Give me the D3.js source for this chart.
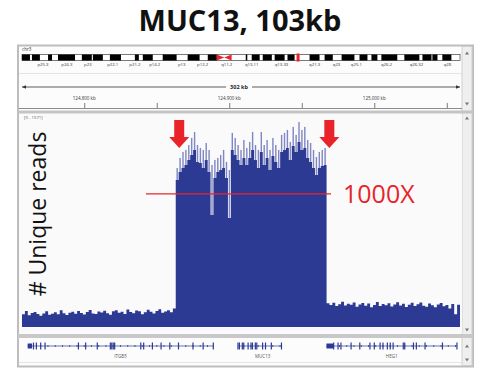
<!DOCTYPE html>
<html>
<head>
<meta charset="utf-8">
<script src="https://cdn.jsdelivr.net/npm/d3@7"></script>
<style>
  body { margin: 0; background: #fff; }
  svg { display: block; font-family: "Open Sans", "DejaVu Sans", sans-serif; }
</style>
</head>
<body>
<svg id="chart" width="481" height="371"></svg>
<script>
// View: chr3, 302 kb window (kb coordinates)
var viewStart = 124757.1, viewEnd = 125059.1;
var majorTicks = [124800, 124900, 125000];
var minorTicks = [124850, 124950, 125050];
var tickLabels = ["124,800 kb", "124,900 kb", "125,000 kb"];

// Coverage in 2 kb bins from viewStart (151 bins)
var binSize = 2;
var coverage = [
  95,120,88,105,112,98,84,102,118,92,100,110,96,125,104,90,108,115,99,121,106,94,113,128,101,97,117,109,122,103,
  92,119,126,107,114,98,131,112,104,124,118,96,110,129,115,102,121,133,108,117,125,111,140,
  1105,1165,1195,1218,1256,1293,1331,1241,1233,1195,1256,1165,842,1120,1165,1180,1195,1120,820,1331,
  1293,1256,1218,1271,1218,1271,1331,1256,1195,1316,1218,1271,1180,1286,1241,1195,1316,1331,1346,1256,
  1361,1316,1391,1331,1346,1271,1241,1195,1143,1195,1211,1218,
  178,165,182,158,171,190,162,175,168,184,152,170,181,160,176,149,166,188,157,172,163,179,155,169,186,
  161,174,150,167,182,158,171,185,160,153,177,164,148,170,181,156,165,140,172,95,168
];
// Peak (max) coverage for the captured region, bins 53..104
var peakStartBin = 53;
var peaks = [
  1195,1271,1316,1331,1368,1421,1466,1368,1346,1331,1383,1331,1218,1256,1271,1293,1331,1241,1180,1459,
  1421,1368,1331,1406,1346,1391,1466,1368,1331,1466,1368,1406,1331,1421,1368,1331,1444,1459,1481,1391,
  1504,1444,1541,1481,1504,1406,1383,1331,1278,1316,1331,1346
];
var dataRange = [0, 1571];
var depthMark = 1000;
var arrowPos = [124865.5, 124969];

// Chromosome 3 ideogram (Mb)
var chromLength = 198.3;
var bands = [
  [0,3.6],[4.5,8.1],[11.8,13.6],[16.3,24],[27.1,31.6],[32.1,36.6],[39.8,44.8],[51.1,52.9],[54.7,59.2],
  [63.7,70],[75,80.4],[84.1,88.2],[101.3,102],[104,107.6],[109,113.1],[114.4,118.9],[120.2,123.4],
  [130.2,134.7],[137,140.7],[144.7,150.5],[152.8,156.4],[158.2,160.9],[162.7,169.9],[173.1,179.9],
  [181.3,185.4],[185.8,188.1],[190.3,194.4]
];
var centromere = [88.2, 94.9];
var bandNames = ["p25.3","p24.3","p23","p22.1","p21.2","p14.2","p13","p12.2","q11.2","q13.11","q13.33",
  "q21.3","q23","q25.1","q26.2","q26.32","q28"];
var bandNamePos = [9.5,20.3,29.8,41.1,51.1,60.1,72.3,81.8,92.7,104,117.5,132.5,142.4,151.4,165,178.6,192.6];

// Genes (kb)
var geneNames = ["ITGB5", "MUC13", "HEG1"];
var geneSpans = [[124761, 124889], [124906, 124936], [124967, 125057]];
var geneUtr = [[124761, 124764], null, [124967, 124972]];
var geneExons = [
  [124765,124767,124770,124773,124796,124801,124809,124818,124819,124820,124821,124839,124841,124847,124853,124859,124865,124875,124882,124889],
  [124906,124907,124909,124910,124913,124915,124916,124918,124919,124923,124925,124929,124936],
  [124972,124975,124977,124984,124990,124997,125000,125004,125006,125009,125011,125013,125020,125021,125027,125029,125035,125047,125057]
];

var svg = d3.select("#chart");
var left = 22, right = 460;
var blue = "#2c3a93", red = "#e8242a";

var x = d3.scaleLinear().domain([viewStart, viewEnd]).range([left, right]).clamp(true);
var chromX = d3.scaleLinear().domain([0, chromLength]).range([left, 460]);
var y = d3.scaleLinear().domain(dataRange).range([327, 118]);

// Title
svg.append("text").attr("x", 240).attr("y", 31).attr("text-anchor", "middle")
  .style("font-size", "29px").style("font-weight", "bold").attr("fill", "#111")
  .text("MUC13, 103kb");

// Frame and panels
svg.append("rect").attr("x", 18).attr("y", 45.5).attr("width", 455).attr("height", 321)
  .attr("fill", "#fcfcfc").attr("stroke", "#bdbdbd").attr("stroke-width", 2);
svg.append("rect").attr("x", 462).attr("y", 46.5).attr("width", 10).attr("height", 319)
  .attr("fill", "#efefef").attr("stroke", "#cfcfcf");
svg.append("line").attr("x1", 19).attr("x2", 462).attr("y1", 73.5).attr("y2", 73.5).attr("stroke", "#e4e4e4");
svg.append("line").attr("x1", 19).attr("x2", 462).attr("y1", 108.5).attr("y2", 108.5).attr("stroke", "#8a8a8a");
svg.append("rect").attr("x", 18).attr("y", 110.5).attr("width", 455).attr("height", 3).attr("fill", "#c4c4c4");
svg.append("rect").attr("x", 19).attr("y", 114).attr("width", 443).attr("height", 219).attr("fill", "#fafafa");
svg.append("rect").attr("x", 18).attr("y", 334).attr("width", 455).attr("height", 4).attr("fill", "#c8c8c8");
svg.append("line").attr("x1", 19).attr("x2", 462).attr("y1", 362.5).attr("y2", 362.5).attr("stroke", "#e4e4e4");

// scrollbar arrows
var arrowsY = [[53, 1], [104, -1], [118, 1], [330, -1], [346, 1], [360, -1]];
svg.selectAll(".sarrow").data(arrowsY).enter().append("path")
  .attr("class", "sarrow")
  .attr("d", function(d) {
    return "M465," + (d[0] + d[1] * 1.5) + "L469," + (d[0] + d[1] * 1.5) + "L467," + (d[0] - d[1] * 1.5) + "Z";
  })
  .attr("fill", "#777");

// Ideogram
svg.append("text").attr("x", 22).attr("y", 51).style("font-size", "4.5px").attr("fill", "#333").text("chr3");
var ideo = svg.append("g");
ideo.append("rect").attr("x", chromX(0)).attr("y", 54.5).attr("width", chromX(chromLength) - chromX(0))
  .attr("height", 6).attr("fill", "#fff").attr("stroke", "#222").attr("stroke-width", 0.6);
ideo.selectAll(".band").data(bands).enter().append("rect")
  .attr("class", "band")
  .attr("x", function(d) { return chromX(d[0]); })
  .attr("width", function(d) { return chromX(d[1]) - chromX(d[0]); })
  .attr("y", 54.5).attr("height", 6).attr("fill", "#000");
var cm = (centromere[0] + centromere[1]) / 2;
ideo.append("path")
  .attr("d", "M" + chromX(centromere[0]) + ",54.5L" + chromX(cm) + ",57.5L" + chromX(centromere[0]) + ",60.5Z" +
    "M" + chromX(centromere[1]) + ",54.5L" + chromX(cm) + ",57.5L" + chromX(centromere[1]) + ",60.5Z")
  .attr("fill", red);
ideo.append("rect").attr("x", chromX(viewStart / 1000) - 1).attr("y", 53.5)
  .attr("width", Math.max(3, chromX(viewEnd / 1000) - chromX(viewStart / 1000))).attr("height", 8)
  .attr("fill", red);
ideo.selectAll(".bname").data(bandNames).enter().append("text")
  .attr("class", "bname")
  .attr("x", function(d, i) { return chromX(bandNamePos[i]); })
  .attr("y", 66).attr("text-anchor", "middle")
  .style("font-size", "4.3px").attr("fill", "#333")
  .text(function(d) { return d; });

// Ruler
var ruler = svg.append("g");
ruler.append("line").attr("x1", left).attr("x2", right).attr("y1", 87).attr("y2", 87)
  .attr("stroke", "#333").attr("stroke-width", 0.8);
ruler.append("path").attr("d", "M" + left + ",87l4,-1.8v3.6Z M" + right + ",87l-4,-1.8v3.6Z").attr("fill", "#333");
ruler.append("rect").attr("x", 226).attr("y", 83).attr("width", 26).attr("height", 8).attr("fill", "#fcfcfc");
ruler.append("text").attr("x", 239).attr("y", 89).attr("text-anchor", "middle")
  .style("font-size", "5.5px").style("font-weight", "bold").attr("fill", "#222")
  .text(Math.round(viewEnd - viewStart) + " kb");

var axis = d3.axisBottom(x).tickValues(majorTicks.concat(minorTicks)).tickSize(5).tickFormat("");
var axG = ruler.append("g").attr("transform", "translate(0,103)").call(axis);
axG.select(".domain").remove();
axG.selectAll("line").attr("stroke", "#444").attr("stroke-width", 0.7);
ruler.selectAll(".tlab").data(majorTicks).enter().append("text")
  .attr("class", "tlab")
  .attr("x", function(d) { return x(d); }).attr("y", 100).attr("text-anchor", "middle")
  .style("font-size", "4.5px").attr("fill", "#333")
  .text(function(d, i) { return tickLabels[i]; });

// Coverage track
svg.append("text").attr("x", 24).attr("y", 119).style("font-size", "4.3px").attr("fill", "#555")
  .text("[" + dataRange[0] + " - " + dataRange[1] + "]");

var cov = svg.append("g");
// step area over bins; last value repeated to close the final bin
var covPts = coverage.concat([coverage[coverage.length - 1]]);
var area = d3.area()
  .x(function(d, i) { return x(viewStart + i * binSize); })
  .y0(y(0))
  .y1(function(d) { return y(d); })
  .curve(d3.curveStepAfter);
cov.append("path").datum(covPts).attr("d", area).attr("fill", blue);
cov.selectAll(".peak").data(peaks).enter().append("rect")
  .attr("class", "peak")
  .attr("x", function(d, i) { return x(viewStart + (peakStartBin + i + 0.5) * binSize) - 0.7; })
  .attr("width", 1.4)
  .attr("y", function(d) { return y(d); })
  .attr("height", function(d, i) { return Math.max(0, y(coverage[peakStartBin + i]) - y(d)); })
  .attr("fill", "#7f86c4");

// 1000X mark
svg.append("line").attr("x1", 146).attr("x2", 331).attr("y1", y(depthMark)).attr("y2", y(depthMark))
  .attr("stroke", red).attr("stroke-width", 1.3);
svg.append("text").attr("x", 343).attr("y", y(depthMark) + 9).style("font-size", "25px")
  .attr("fill", red).text(depthMark + "X");

// red arrows marking boundaries
svg.selectAll(".barrow").data(arrowPos).enter().append("path")
  .attr("class", "barrow")
  .attr("d", function(d) {
    var cx = x(d);
    return "M" + (cx - 5) + ",120H" + (cx + 5) + "V137H" + (cx + 10) + "L" + cx + ",148L" + (cx - 10) + ",137H" + (cx - 5) + "Z";
  })
  .attr("fill", red);

// y label
svg.append("text").attr("transform", "translate(46,214) rotate(-90)").attr("text-anchor", "middle")
  .style("font-size", "23px").attr("fill", "#111").text("# Unique reads");

// Gene track
var genes = svg.append("g");
var gy = 346;
genes.selectAll(".gline").data(geneSpans).enter().append("line")
  .attr("class", "gline")
  .attr("x1", function(d) { return x(d[0]); }).attr("x2", function(d) { return x(d[1]); })
  .attr("y1", gy).attr("y2", gy).attr("stroke", blue).attr("stroke-width", 0.7);
genes.selectAll(".utr").data(geneUtr.filter(function(d) { return d; })).enter().append("rect")
  .attr("class", "utr")
  .attr("x", function(d) { return x(d[0]); }).attr("width", function(d) { return x(d[1]) - x(d[0]); })
  .attr("y", gy - 2.5).attr("height", 5).attr("fill", blue);
geneExons.forEach(function(ex) {
  genes.selectAll(null).data(ex).enter().append("rect")
    .attr("x", function(d) { return x(d) - 0.6; }).attr("width", 1.2)
    .attr("y", gy - 3.5).attr("height", 7).attr("fill", blue);
});
// intron direction markers
geneSpans.forEach(function(s) {
  genes.selectAll(null).data(d3.range(s[0] + 4, s[1], 5)).enter().append("rect")
    .attr("x", function(d) { return x(d) - 0.5; }).attr("width", 1)
    .attr("y", gy - 0.8).attr("height", 1.6).attr("fill", blue);
});
genes.selectAll(".gname").data(geneNames).enter().append("text")
  .attr("class", "gname")
  .attr("x", function(d, i) { return x((geneSpans[i][0] + geneSpans[i][1]) / 2) + (i === 1 ? 3 : 0); })
  .attr("y", 358).attr("text-anchor", "middle")
  .style("font-size", "4.5px").attr("fill", "#555")
  .text(function(d) { return d; });
</script>
</body>
</html>
